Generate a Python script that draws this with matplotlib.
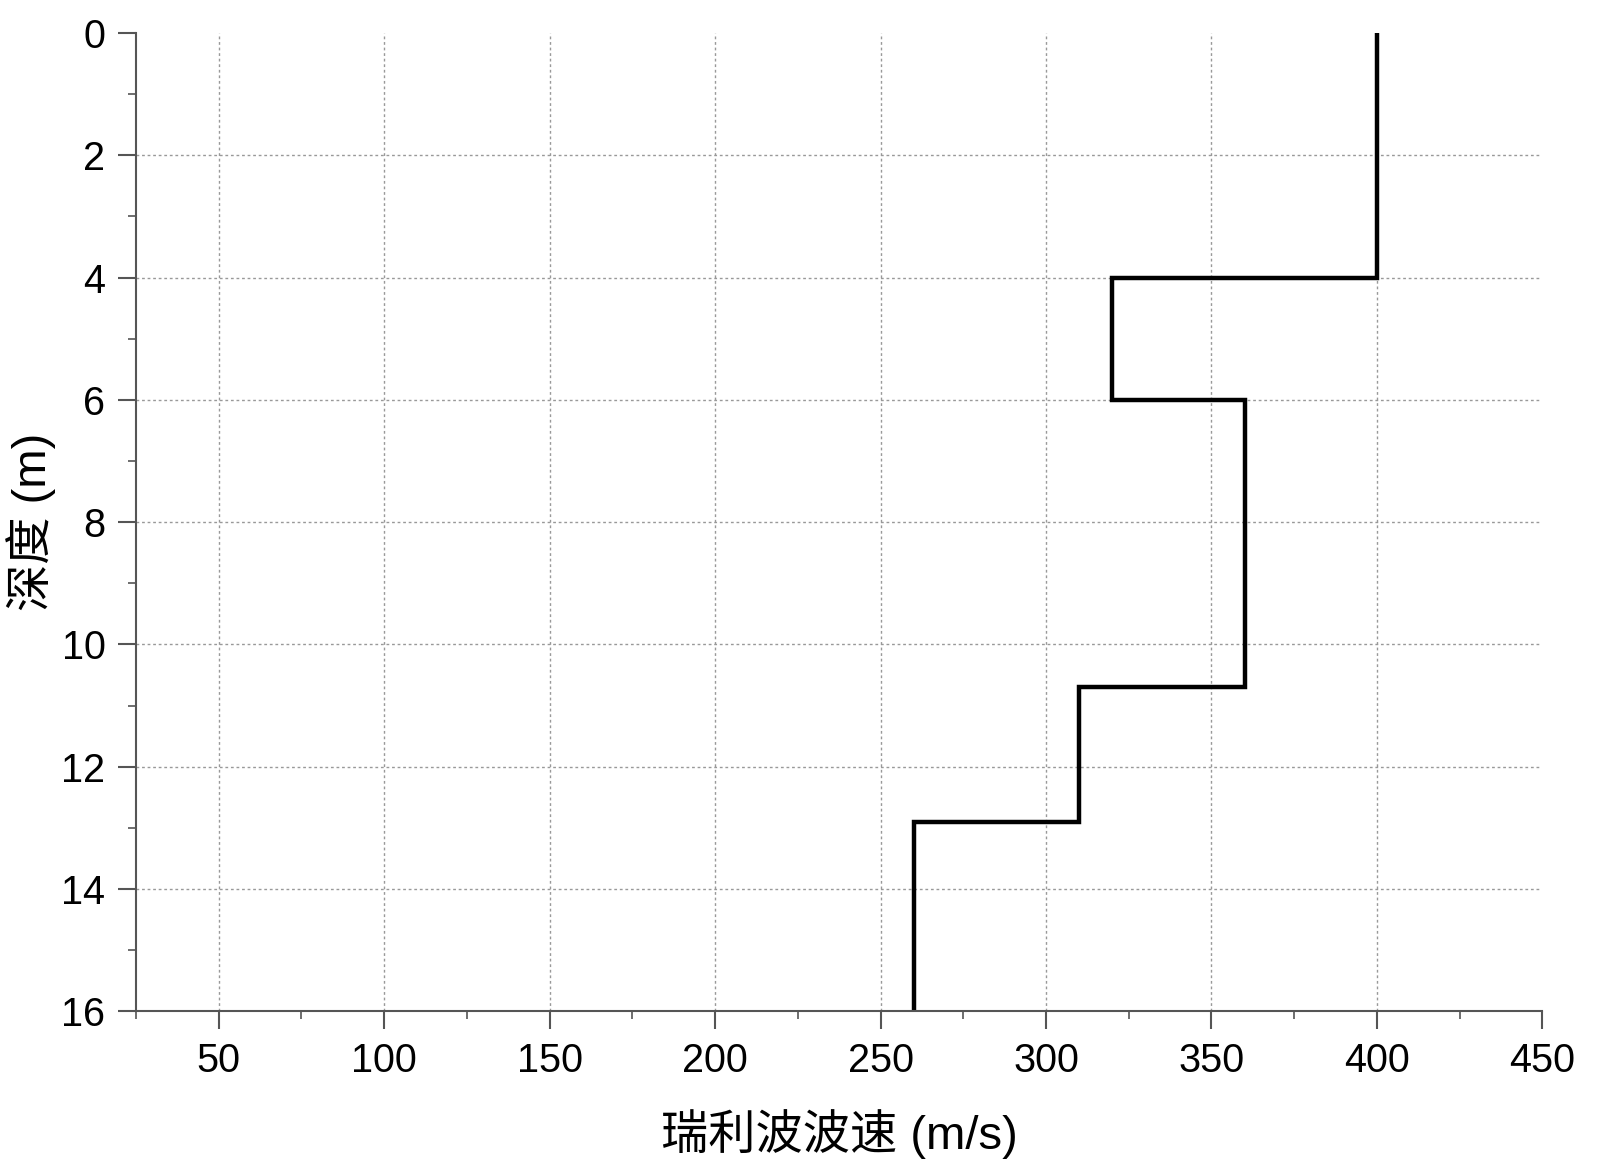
import numpy as np
import matplotlib
matplotlib.use('Agg')
from matplotlib import pyplot as plt
from matplotlib.ticker import MultipleLocator

plt.rcParams['font.family'] = ['Liberation Sans', 'Noto Sans CJK SC']

# 分层波速剖面
layer_top = [0, 4.0, 6.0, 10.7, 12.9]
layer_bottom = [4.0, 6.0, 10.7, 12.9, 16]
velocity = [400, 320, 360, 310, 260]

x_ticks = [50, 100, 150, 200, 250, 300, 350, 400, 450]
y_ticks = [0, 2, 4, 6, 8, 10, 12, 14, 16]

# 阶梯线的坐标
depth = []
speed = []
for top, bot, v in zip(layer_top, layer_bottom, velocity):
    depth += [top, bot]
    speed += [v, v]

fig = plt.figure(figsize=(16, 11.61), dpi=100)
ax = fig.add_axes([0.085, 0.129, 0.879, 0.8426])

ax.plot(speed, depth, color='black', linewidth=3.2, solid_joinstyle='miter')

ax.set_xlim(25, 450)
ax.set_ylim(16, 0)
ax.set_xticks(x_ticks)
ax.set_yticks(y_ticks)
ax.xaxis.set_minor_locator(MultipleLocator(25))
ax.yaxis.set_minor_locator(MultipleLocator(1))

for s in ['top', 'right']:
    ax.spines[s].set_visible(False)
for s in ['left', 'bottom']:
    ax.spines[s].set_color('#555555')
    ax.spines[s].set_linewidth(1.5)

ax.tick_params(which='major', direction='out', length=13, width=1.5,
               color='#555555', labelsize=28.5, pad=9)
ax.tick_params(which='minor', direction='out', length=6, width=1.2,
               color='#555555')

ax.grid(True, which='major', color='#999999', linestyle=(0, (2, 2)),
        linewidth=1)
# 边界上的网格线不显示
ax.xaxis.get_gridlines()[-1].set_visible(False)
ax.yaxis.get_gridlines()[0].set_visible(False)

ax.set_xlabel('瑞利波波速 (m/s)', fontsize=34, labelpad=21)
ax.set_ylabel('深度 (m)', fontsize=34, labelpad=4)

fig.savefig('out.png', dpi=100)
